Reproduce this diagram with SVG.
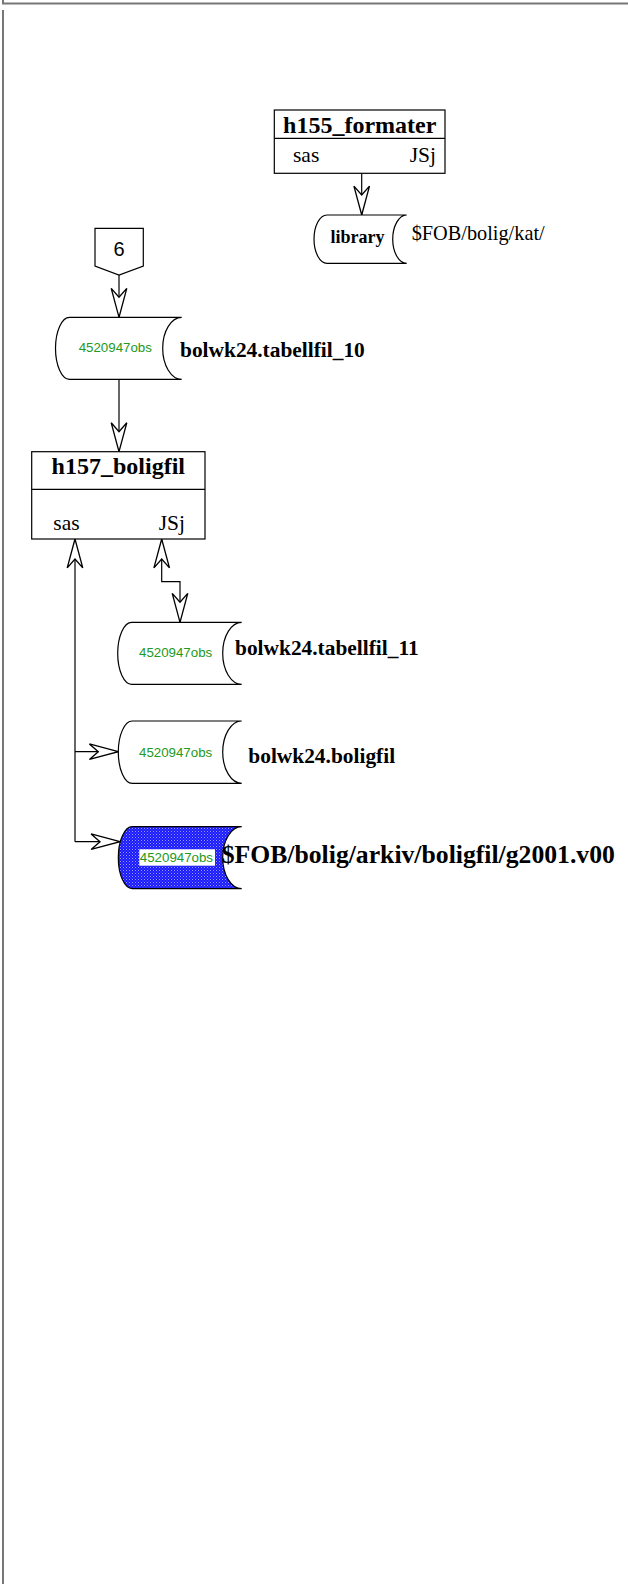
<svg xmlns="http://www.w3.org/2000/svg" width="628" height="1584" viewBox="0 0 628 1584">
<style>
.box{fill:#fff;stroke:#000;stroke-width:1.2}
.shape{fill:#fff;stroke:#000;stroke-width:1.2}
.title{font-family:"Liberation Serif",serif;font-weight:bold;font-size:24px;fill:#000}
.port{font-family:"Liberation Serif",serif;font-size:21.5px;fill:#000}
.lbl{font-family:"Liberation Serif",serif;font-weight:bold;font-size:21.4px;fill:#000}
.obs{font-family:"Liberation Sans",sans-serif;font-size:13.3px;fill:#229922}
.conn{fill:none;stroke:#000;stroke-width:1.2}
.border{fill:none;stroke:#777;stroke-width:2}
</style>
<defs>
<marker id="arr" markerUnits="userSpaceOnUse" markerWidth="40" markerHeight="20" viewBox="-28 -9 30 18" refX="0" refY="0" orient="auto-start-reverse" overflow="visible">
<path d="M0,0 L-26,-7 L-18,0 L-26,7 Z" fill="#fff" stroke="#000" stroke-width="1.2"/>
</marker>
<pattern id="blue" width="3" height="3" patternUnits="userSpaceOnUse">
<rect width="3" height="3" fill="#1a1aff"/>
<rect x="0" y="0" width="1" height="1" fill="#9a9aff"/>
<rect x="1.5" y="1.5" width="1" height="1" fill="#6a6aff"/>
</pattern>
</defs>

<g id="border">
<path class="border" d="M3,0 V3.5 H628"/>
<path class="border" d="M3,10 V1584"/>
</g>

<g id="connectors">
<path class="conn" d="M361.7,173.3 V215" marker-end="url(#arr)"/>
<path class="conn" d="M119,275 V317.3" marker-end="url(#arr)"/>
<path class="conn" d="M119,379.3 V451.7" marker-end="url(#arr)"/>
<path class="conn" d="M161.7,539 V581.7 H180 V622.3" marker-start="url(#arr)" marker-end="url(#arr)"/>
<path class="conn" d="M75,539 V841.7"  marker-start="url(#arr)"/>
<path class="conn" d="M75,751.7 H118.3" marker-end="url(#arr)"/>
<path class="conn" d="M75,841.7 H120" marker-end="url(#arr)"/>
</g>

<g id="h155_formater">
<rect class="box" x="274.3" y="110" width="170.7" height="63.3"/>
<line class="conn" x1="274.3" y1="138.3" x2="445" y2="138.3"/>
<text class="title" x="359.7" y="133" text-anchor="middle">h155_formater</text>
<text class="port" x="293" y="162">sas</text>
<text class="port" x="436" y="162" text-anchor="end">JSj</text>
</g>

<g id="library">
<path class="shape" d="M327,215 H406.7 A14 24.15 0 0 0 406.7,263.3 H327 A13 24.15 0 0 1 327,215 Z"/>
<text x="357.5" y="243" text-anchor="middle" font-family="Liberation Serif, serif" font-weight="bold" font-size="18">library</text>
<text x="411.7" y="240" font-family="Liberation Serif, serif" font-size="20.3">$FOB/bolig/kat/</text>
</g>

<g id="offpage_6">
<polygon class="shape" points="95,228.3 143.3,228.3 143.3,266 119,275 95,266"/>
<text x="119" y="256" text-anchor="middle" font-family="Liberation Sans, sans-serif" font-size="20">6</text>
</g>

<g id="tabellfil_10">
<path class="shape" d="M69.5,317.3 H181.7 A19 31 0 0 0 181.7,379.3 H69.5 A14 31 0 0 1 69.5,317.3 Z"/>
<text class="obs" x="78.7" y="352">4520947obs</text>
<text class="lbl" x="180" y="357">bolwk24.tabellfil_10</text>
</g>

<g id="h157_boligfil">
<rect class="box" x="31.7" y="451.7" width="173.3" height="87.3"/>
<line class="conn" x1="31.7" y1="489.3" x2="205" y2="489.3"/>
<text class="title" x="118.3" y="474" text-anchor="middle">h157_boligfil</text>
<text class="port" x="53.3" y="530">sas</text>
<text class="port" x="185" y="530" text-anchor="end">JSj</text>
</g>

<g id="tabellfil_11">
<path class="shape" d="M131.7,622.3 H241.7 A19 31 0 0 0 241.7,684.3 H131.7 A14 31 0 0 1 131.7,622.3 Z"/>
<text class="obs" x="139" y="657">4520947obs</text>
<text class="lbl" x="235" y="655">bolwk24.tabellfil_11</text>
</g>

<g id="boligfil">
<path class="shape" d="M132.3,721 H241.7 A19 31.15 0 0 0 241.7,783.3 H132.3 A14 31.15 0 0 1 132.3,721 Z"/>
<text class="obs" x="139" y="756.7">4520947obs</text>
<text class="lbl" x="248.3" y="763">bolwk24.boligfil</text>
</g>

<g id="arkiv">
<path d="M132.3,826.7 H241.7 A19 31 0 0 0 241.7,888.7 H132.3 A14 31 0 0 1 132.3,826.7 Z" fill="url(#blue)" stroke="#000" stroke-width="1.2"/>
<rect x="139.3" y="849.3" width="75.7" height="16.4" fill="#fff"/>
<text class="obs" x="139.8" y="862">4520947obs</text>
<text x="221.7" y="863" font-family="Liberation Serif, serif" font-weight="bold" font-size="25.7">$FOB/bolig/arkiv/boligfil/g2001.v00</text>
</g>
</svg>
